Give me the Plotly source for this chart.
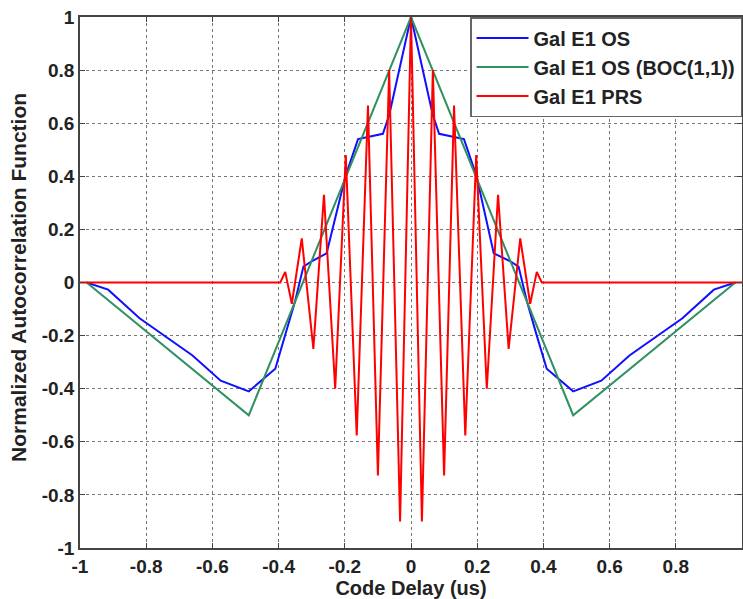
import plotly.graph_objects as go

# code delay (us) / normalized ACF values
os_x = [-0.98, -0.915, -0.82, -0.66, -0.575, -0.49, -0.41, -0.38, -0.35, -0.325, -0.30, -0.255,
        -0.198, -0.16, -0.085, -0.066, 0.0, 0.066, 0.085, 0.16, 0.198, 0.25, 0.30, 0.325,
        0.35, 0.38, 0.41, 0.49, 0.575, 0.66, 0.82, 0.915, 0.98]
os_y = [0.0, -0.027, -0.135, -0.275, -0.37, -0.41, -0.325, -0.2, -0.07, 0.06, 0.08, 0.11,
        0.40, 0.54, 0.56, 0.63, 1.0, 0.63, 0.56, 0.54, 0.40, 0.11, 0.08, 0.06,
        -0.07, -0.2, -0.325, -0.41, -0.37, -0.275, -0.135, -0.027, 0.0]

boc_x = [-0.98, -0.49, 0.0, 0.49, 0.98]
boc_y = [0.0, -0.5, 1.0, -0.5, 0.0]

prs_x = [-1.0, -0.395, -0.38, -0.36, -0.33, -0.295, -0.263, -0.229, -0.197, -0.164, -0.13,
         -0.1, -0.066, -0.033, 0.0, 0.033, 0.066, 0.1, 0.13, 0.164, 0.197, 0.229, 0.263,
         0.295, 0.33, 0.36, 0.38, 0.395, 1.0]
prs_y = [0.0, 0.0, 0.04, -0.08, 0.166, -0.25, 0.33, -0.40, 0.48, -0.576, 0.667,
         -0.727, 0.80, -0.90, 1.0, -0.90, 0.80, -0.727, 0.667, -0.576, 0.48, -0.40, 0.33,
         -0.25, 0.166, -0.08, 0.04, 0.0, 0.0]

x_ticks = [-1, -0.8, -0.6, -0.4, -0.2, 0, 0.2, 0.4, 0.6, 0.8, 1]
x_labels = ['-1', '-0.8', '-0.6', '-0.4', '-0.2', '0', '0.2', '0.4', '0.6', '0.8', '1']
y_ticks = [-1, -0.8, -0.6, -0.4, -0.2, 0, 0.2, 0.4, 0.6, 0.8, 1]
y_labels = ['-1', '-0.8', '-0.6', '-0.4', '-0.2', '0', '0.2', '0.4', '0.6', '0.8', '1']

trace_os = go.Scatter(x=os_x, y=os_y, mode='lines', name='Gal E1 OS',
                      line=dict(color='#1010ff', width=2))
trace_boc = go.Scatter(x=boc_x, y=boc_y, mode='lines', name='Gal E1 OS (BOC(1,1))',
                       line=dict(color='#2f9060', width=2))
trace_prs = go.Scatter(x=prs_x, y=prs_y, mode='lines', name='Gal E1 PRS',
                       line=dict(color='#ff0000', width=2))

axis_style = dict(
    showline=True, linecolor='#444444', linewidth=1.5, mirror='ticks',
    ticks='inside', ticklen=5, tickcolor='#444444',
    showgrid=True, gridcolor='#777777', gridwidth=1, griddash='dot',
    zeroline=False, automargin=False, tickfont=dict(size=19, color='#222222'),
)

layout = go.Layout(
    width=743, height=599,
    margin=dict(l=80, r=1, t=17, b=51),
    paper_bgcolor='white', plot_bgcolor='white',
    font=dict(family='Arial, Liberation Sans, sans-serif', weight='bold', color='#222222'),
    xaxis=dict(range=[-1, 1], tickvals=x_ticks, ticktext=x_labels,
               title=dict(text='Code Delay (us)', font=dict(size=20), standoff=2),
               **axis_style),
    yaxis=dict(range=[-1, 1], tickvals=y_ticks, ticktext=y_labels, **axis_style),
    legend=dict(x=1, y=1, xanchor='right', yanchor='top', bgcolor='white',
                bordercolor='#666666', borderwidth=1.5, itemwidth=52,
                entrywidth=215, entrywidthmode='pixels',
                font=dict(size=20, color='#222222', weight='bold')),
    # y axis title placed by hand, closer to the edge like the original
    annotations=[dict(text='Normalized Autocorrelation Function', textangle=-90,
                      xref='paper', yref='paper', x=-0.094, y=0.51,
                      xanchor='center', yanchor='middle', showarrow=False,
                      font=dict(size=21, color='#222222', weight='bold'))],
)

fig = go.Figure(data=[trace_os, trace_boc, trace_prs], layout=layout)
# drop the page's default body margin so the figure sits at the top-left corner
fig.write_html("out.html", config={'displayModeBar': False},
               post_script="document.body.style.margin='0';")
